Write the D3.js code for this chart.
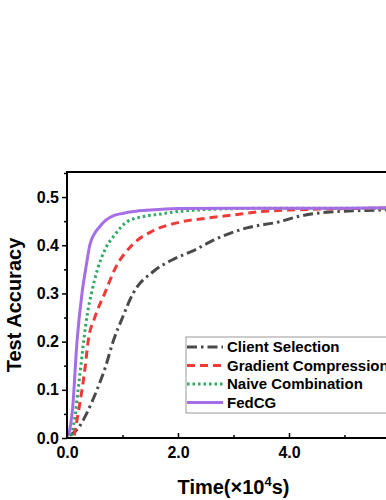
<!DOCTYPE html>
<html>
<head>
<meta charset="utf-8">
<script src="https://cdn.jsdelivr.net/npm/d3@7"></script>
<style>
  body { margin: 0; background: #fff; }
  text { font-family: "Liberation Sans", Arial, sans-serif; font-weight: bold; }
</style>
</head>
<body>
<div id="chart"></div>
<script>
// time in 1e4 s, accuracy
var clientSelX = [0.05, 0.2, 0.35, 0.54, 0.7, 0.83, 1.0, 1.19, 1.55, 1.9, 2.3, 2.63, 3.24, 3.84, 4.14, 4.74, 5.64, 6.2];
var clientSelY = [0.005, 0.02, 0.05, 0.1, 0.15, 0.2, 0.25, 0.3, 0.345, 0.37, 0.39, 0.41, 0.436, 0.449, 0.459, 0.469, 0.473, 0.475];
var gradCompX = [0.13, 0.2, 0.27, 0.33, 0.38, 0.5, 0.68, 0.86, 1.17, 1.55, 2.0, 2.5, 3.0, 3.5, 4.0, 5.0, 6.2];
var gradCompY = [0.005, 0.05, 0.1, 0.15, 0.2, 0.25, 0.3, 0.35, 0.4, 0.43, 0.447, 0.456, 0.463, 0.47, 0.473, 0.476, 0.477];
var naiveX = [0.08, 0.15, 0.2, 0.25, 0.3, 0.37, 0.44, 0.55, 0.68, 0.85, 1.1, 1.4, 1.7, 2.0, 2.5, 3.0, 4.0, 5.0, 6.2];
var naiveY = [0.005, 0.05, 0.1, 0.15, 0.2, 0.26, 0.3, 0.35, 0.39, 0.42, 0.45, 0.46, 0.465, 0.47, 0.474, 0.476, 0.477, 0.477, 0.477];
var fedcgX = [0.03, 0.1, 0.18, 0.27, 0.35, 0.41, 0.5, 0.6, 0.7, 0.85, 1.0, 1.2, 1.5, 2.0, 3.0, 4.0, 5.0, 6.2];
var fedcgY = [0.005, 0.06, 0.2, 0.3, 0.36, 0.4, 0.425, 0.44, 0.452, 0.462, 0.466, 0.47, 0.473, 0.476, 0.477, 0.477, 0.477, 0.478];

var seriesNames = ['Client Selection', 'Gradient Compression', 'Naive Combination', 'FedCG'];
var yTicks = [0.0, 0.1, 0.2, 0.3, 0.4, 0.5];
var xTicks = [0.0, 2.0, 4.0];

var width = 386, height = 500,
    pLeft = 67, pRight = 400, pTop = 172, pBottom = 438;

var svg = d3.select('#chart').append('svg')
    .attr('width', width)
    .attr('height', height);

var x = d3.scaleLinear().domain([0, 6]).range([pLeft, pRight]),
    y = d3.scaleLinear().domain([0, 0.552]).range([pBottom, pTop]);

var styles = [
    { color: '#4a4a4a', dash: '10,4,2.5,4' },
    { color: '#f03a3a', dash: '8,5' },
    { color: '#2ea862', dash: '2.5,3' },
    { color: '#a56ee6', dash: null }
];

var series = [
    d3.zip(clientSelX, clientSelY),
    d3.zip(gradCompX, gradCompY),
    d3.zip(naiveX, naiveY),
    d3.zip(fedcgX, fedcgY)
];

var line = d3.line()
    .curve(d3.curveMonotoneX)
    .x(function (d) { return x(d[0]); })
    .y(function (d) { return y(d[1]); });

svg.append('clipPath').attr('id', 'clip')
    .append('rect').attr('x', pLeft).attr('y', pTop)
    .attr('width', pRight - pLeft).attr('height', pBottom - pTop);

svg.append('g').attr('clip-path', 'url(#clip)')
    .selectAll('path')
    .data(series)
    .enter().append('path')
    .attr('d', line)
    .attr('fill', 'none')
    .attr('stroke', function (d, i) { return styles[i].color; })
    .attr('stroke-width', 3)
    .attr('stroke-dasharray', function (d, i) { return styles[i].dash; });

// axes
var yAxis = d3.axisLeft(y).tickValues(yTicks).tickSize(5).tickPadding(3)
    .tickFormat(d3.format('.1f'));
var yMinor = d3.axisLeft(y).tickValues([0.05, 0.15, 0.25, 0.35, 0.45, 0.55]).tickSize(3).tickFormat('');
var xAxis = d3.axisBottom(x).tickValues(xTicks).tickSize(-5).tickPadding(9)
    .tickFormat(d3.format('.1f'));
var xMinor = d3.axisBottom(x).tickValues([1, 3, 5]).tickSize(-3).tickFormat('');

function styleAxis(g) {
    g.select('.domain').remove();
    g.selectAll('line').attr('stroke', '#000').attr('stroke-width', 1.5);
    g.selectAll('text').attr('fill', '#000').style('font-size', '16px');
}

svg.append('g').attr('transform', 'translate(' + pLeft + ',0)').call(yAxis).call(styleAxis);
svg.append('g').attr('transform', 'translate(' + pLeft + ',0)').call(yMinor).call(styleAxis);
svg.append('g').attr('transform', 'translate(0,' + pBottom + ')').call(xAxis).call(styleAxis);
svg.append('g').attr('transform', 'translate(0,' + pBottom + ')').call(xMinor).call(styleAxis);

// frame
svg.append('rect')
    .attr('x', pLeft).attr('y', pTop)
    .attr('width', pRight - pLeft).attr('height', pBottom - pTop)
    .attr('fill', 'none').attr('stroke', '#000').attr('stroke-width', 2);

// titles
svg.append('text')
    .attr('transform', 'translate(21,' + ((pTop + pBottom) / 2) + ') rotate(-90)')
    .attr('text-anchor', 'middle')
    .style('font-size', '20px')
    .text('Test Accuracy');

var xt = svg.append('text')
    .attr('x', (pLeft + pRight) / 2).attr('y', 494)
    .attr('text-anchor', 'middle')
    .style('font-size', '20px');
xt.append('tspan').text('Time(\u00d710');
xt.append('tspan').attr('dy', -8).style('font-size', '13px').text('4');
xt.append('tspan').attr('dy', 8).text('s)');

// legend
var lg = svg.append('g').attr('transform', 'translate(186,337)');
lg.append('rect').attr('width', 220).attr('height', 76)
    .attr('fill', '#fff').attr('stroke', '#999').attr('stroke-width', 1);
var item = lg.selectAll('.item')
    .data(seriesNames)
    .enter().append('g')
    .attr('class', 'item')
    .attr('transform', function (d, i) { return 'translate(0,' + (10 + i * 18.5) + ')'; });
item.append('line')
    .attr('x1', 1).attr('x2', 37)
    .attr('stroke', function (d, i) { return styles[i].color; })
    .attr('stroke-width', 3)
    .attr('stroke-dasharray', function (d, i) { return styles[i].dash; });
item.append('text')
    .attr('x', 41).attr('y', 5)
    .style('font-size', '15px')
    .text(function (d) { return d; });
</script>
</body>
</html>
